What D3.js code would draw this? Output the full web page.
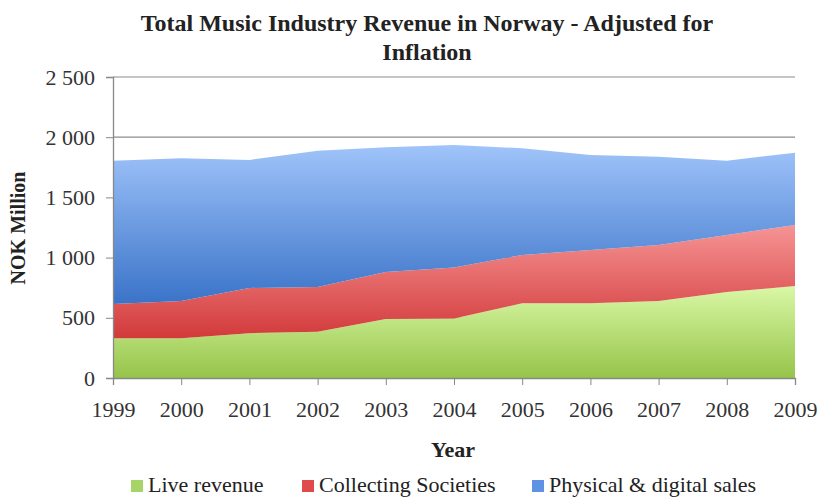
<!DOCTYPE html>
<html><head><meta charset="utf-8">
<script src="https://cdn.jsdelivr.net/npm/d3@7"></script>
<style>body{margin:0;background:#fff}svg{display:block}svg text{font-family:"Liberation Serif","DejaVu Serif",serif}</style>
</head><body><svg id="c" width="821" height="497"></svg>
<script>
const years = ["1999","2000","2001","2002","2003","2004","2005","2006","2007","2008","2009"];
const liveRevenue = [330, 330, 372, 385, 490, 495, 620, 620, 640, 714, 764];
const collectingSocieties = [284, 310, 376, 371, 390, 423, 402, 443, 465, 474, 507];
const physicalDigital = [1191, 1185, 1063, 1132, 1036, 1017, 886, 789, 733, 617, 600];
const seriesNames = ["Live revenue", "Collecting Societies", "Physical & digital sales"];
const yTicks = [0, 500, 1000, 1500, 2000, 2500];

const svg = d3.select("#c");
const m = {l:113, r:795, t:77, b:378};
const x = d3.scalePoint().domain(years).range([m.l, m.r]);
const y = d3.scaleLinear().domain([0, 2500]).range([m.b, m.t]);

const table = years.map((yr,i)=>({year:yr, live:liveRevenue[i], coll:collectingSocieties[i], phys:physicalDigital[i]}));
const stack = d3.stack().keys(["live","coll","phys"])(table);

const grads = [["#d9f8a6","#96c449"],["#f69494","#d2393a"],["#a0c4fa","#3a73c8"]];
const swatch = ["#a6d468","#e04a4a","#5f92e2"];
const defs = svg.append("defs");
grads.forEach((g,i)=>{
  const lg = defs.append("linearGradient").attr("id","g"+i).attr("x1",0).attr("y1",0).attr("x2",0).attr("y2",1);
  lg.append("stop").attr("offset","0%").attr("stop-color",g[0]);
  lg.append("stop").attr("offset","100%").attr("stop-color",g[1]);
});

// gridlines
svg.append("g").selectAll("line").data(yTicks.filter(d=>d>0)).join("line")
  .attr("x1",m.l).attr("x2",m.r).attr("y1",d=>y(d)).attr("y2",d=>y(d))
  .attr("stroke","#8c8c8c").attr("stroke-width",1.2);

const area = d3.area().x(d=>x(d.data.year)).y0(d=>y(d[0])).y1(d=>y(d[1]));
svg.append("g").selectAll("path").data(stack).join("path")
  .attr("d",area).attr("fill",(d,i)=>`url(#g${i})`);

const ff = '"Liberation Serif","DejaVu Serif",serif';
// axes
const ya = svg.append("g").attr("transform",`translate(${m.l},0)`)
  .call(d3.axisLeft(y).tickValues(yTicks).tickSize(7).tickPadding(11)
    .tickFormat(d=>d3.format(",")(d).replace(",", "\u00a0")));
ya.attr("font-family",ff);
ya.select(".domain").attr("stroke","#888").attr("stroke-width",1.3);
ya.selectAll(".tick line").attr("stroke","#888");
ya.selectAll("text").attr("font-size",22).attr("fill","#333");

const xa = svg.append("g").attr("transform",`translate(0,${m.b})`)
  .call(d3.axisBottom(x).tickSize(7).tickPadding(16));
xa.attr("font-family",ff);
xa.select(".domain").attr("stroke","#888").attr("stroke-width",1.3);
xa.selectAll(".tick line").attr("stroke","#888");
xa.selectAll("text").attr("font-size",22).attr("fill","#333");

// titles
svg.append("text").attr("x",427).attr("y",31).attr("text-anchor","middle")
  .attr("font-size",24).attr("font-weight","bold").attr("fill","#222")
  .text("Total Music Industry Revenue in Norway - Adjusted for");
svg.append("text").attr("x",427).attr("y",60).attr("text-anchor","middle")
  .attr("font-size",24).attr("font-weight","bold").attr("fill","#222").text("Inflation");
svg.append("text").attr("x",453).attr("y",457).attr("text-anchor","middle")
  .attr("font-size",22).attr("font-weight","bold").attr("fill","#222").text("Year");
svg.append("text").attr("transform","translate(25,228) rotate(-90)").attr("text-anchor","middle")
  .attr("font-size",20).attr("font-weight","bold").attr("fill","#222").text("NOK Million");

// legend
const legX = [131, 302, 532];
const lg = svg.append("g").selectAll("g").data(seriesNames).join("g")
  .attr("transform",(d,i)=>`translate(${legX[i]},492)`);
lg.append("rect").attr("x",0).attr("y",-12).attr("width",12).attr("height",12).attr("fill",(d,i)=>swatch[i]);
lg.append("text").attr("x",17).attr("y",0).attr("font-size",22).attr("fill","#222").text(d=>d);
</script></body></html>
